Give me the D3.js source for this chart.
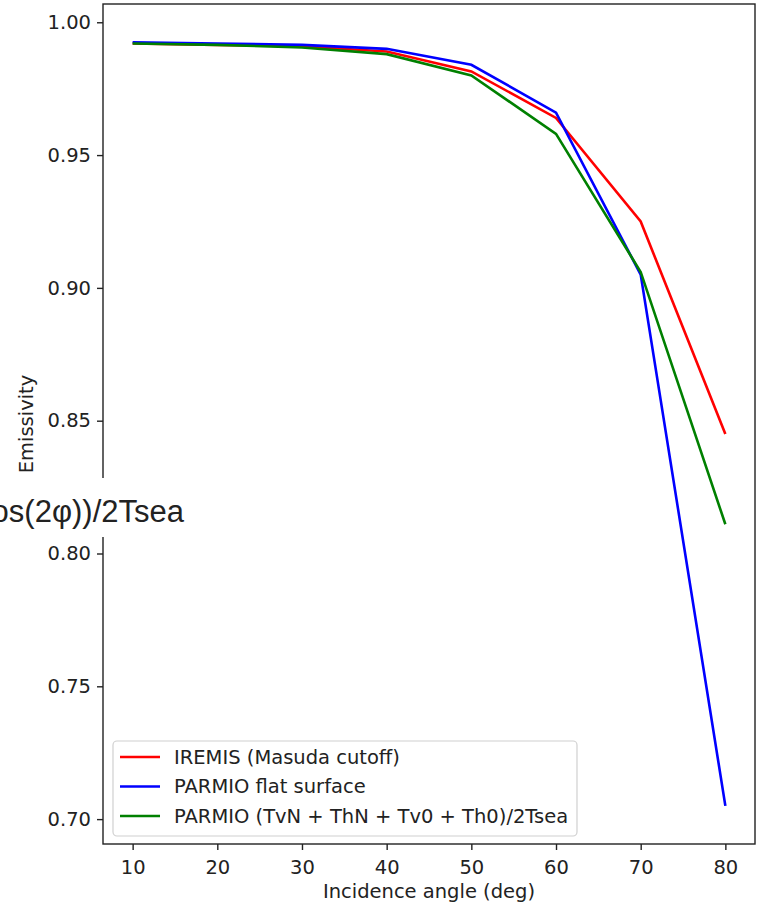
<!DOCTYPE html>
<html>
<head>
<meta charset="utf-8">
<script src="https://cdn.jsdelivr.net/npm/d3@7"></script>
<style>
  body { margin: 0; background: #fff; }
  text { font-family: "DejaVu Sans", sans-serif; fill: #222; }
</style>
</head>
<body>
<svg id="chart" width="769" height="905"></svg>
<script>
// angles (deg)
var angles = [10, 20, 30, 40, 50, 60, 70, 80];
// emissivity per series
var iremis = [0.992, 0.9915, 0.991, 0.989, 0.9815, 0.964, 0.925, 0.845];
var flatSurf = [0.9925, 0.992, 0.9915, 0.990, 0.984, 0.966, 0.905, 0.705];
var parmioMix = [0.992, 0.9915, 0.9905, 0.988, 0.980, 0.958, 0.906, 0.811];
var seriesNames = ['IREMIS (Masuda cutoff)', 'PARMIO flat surface', 'PARMIO (TvN + ThN + Tv0 + Th0)/2Tsea'];
var seriesColors = ['#ff0000', '#0000ff', '#008000'];
var xTicks = [10, 20, 30, 40, 50, 60, 70, 80];
var yTicks = [0.70, 0.75, 0.80, 0.85, 0.90, 0.95, 1.00];

var svg = d3.select('#chart');
var mLeft = 103, mRight = 755, mTop = 4, mBottom = 844;
var fs = '19.5px';

var x = d3.scaleLinear().domain([6.5, 83.5]).range([mLeft, mRight]);
var y = d3.scaleLinear().domain([0.69063, 1.00688]).range([mBottom, mTop]);

var allSeries = [iremis, flatSurf, parmioMix];

// lines
var line = d3.line()
  .x(function(d, i) { return x(angles[i]); })
  .y(function(d) { return y(d); });

svg.append('g').selectAll('path')
  .data(allSeries)
  .enter().append('path')
  .attr('d', line)
  .attr('fill', 'none')
  .attr('stroke', function(d, i) { return seriesColors[i]; })
  .attr('stroke-width', 2.6)
  .attr('stroke-linejoin', 'miter');

// axes
var xAxis = svg.append('g')
  .attr('transform', 'translate(0,' + mBottom + ')')
  .call(d3.axisBottom(x).tickValues(xTicks).tickSize(6).tickPadding(6).tickFormat(d3.format('d')));
var yAxis = svg.append('g')
  .attr('transform', 'translate(' + mLeft + ',0)')
  .call(d3.axisLeft(y).tickValues(yTicks).tickSize(6).tickPadding(6).tickFormat(d3.format('.2f')));

[xAxis, yAxis].forEach(function(a) {
  a.select('.domain').remove();
  a.selectAll('line').attr('stroke', '#222').attr('stroke-width', 1.4);
  a.selectAll('text').style('font-size', fs).attr('fill', '#222').style('font-family', '"DejaVu Sans", sans-serif');
});
xAxis.selectAll('text').attr('dy', '0.9em');

// frame
svg.append('rect')
  .attr('x', mLeft).attr('y', mTop)
  .attr('width', mRight - mLeft).attr('height', mBottom - mTop)
  .attr('fill', 'none').attr('stroke', '#222').attr('stroke-width', 1.4);

// axis labels
svg.append('text')
  .attr('x', (mLeft + mRight) / 2).attr('y', 898)
  .attr('text-anchor', 'middle')
  .style('font-size', fs)
  .text('Incidence angle (deg)');

svg.append('text')
  .attr('transform', 'translate(33,' + ((mTop + mBottom) / 2) + ') rotate(-90)')
  .attr('text-anchor', 'middle')
  .style('font-size', fs)
  .text('Emissivity');

// legend
var legend = svg.append('g');
legend.append('rect')
  .attr('x', 113).attr('y', 741).attr('width', 464).attr('height', 95)
  .attr('rx', 4).attr('fill', '#fff').attr('fill-opacity', 0.8)
  .attr('stroke', '#d0d0d0').attr('stroke-width', 1.2);
var items = legend.selectAll('g.item')
  .data(seriesNames)
  .enter().append('g')
  .attr('transform', function(d, i) { return 'translate(0,' + (757 + i * 29.5) + ')'; });
items.append('line')
  .attr('x1', 120).attr('x2', 160).attr('y1', 0).attr('y2', 0)
  .attr('stroke', function(d, i) { return seriesColors[i]; })
  .attr('stroke-width', 2.6);
items.append('text')
  .attr('x', 174).attr('y', 0).attr('dy', '0.35em')
  .style('font-size', fs)
  .text(function(d) { return d; });

// overlapping caption fragment
svg.append('rect')
  .attr('x', 0).attr('y', 478).attr('width', 200).attr('height', 59)
  .attr('fill', '#fff');
svg.append('text')
  .attr('x', 184).attr('y', 522)
  .attr('text-anchor', 'end')
  .style('font-family', '"Liberation Sans", Arial, sans-serif')
  .style('font-size', '31px')
  .attr('fill', '#222')
  .text('(TvN + ThN + Tv0 + Th0)cos(2φ))/2Tsea');
</script>
</body>
</html>
